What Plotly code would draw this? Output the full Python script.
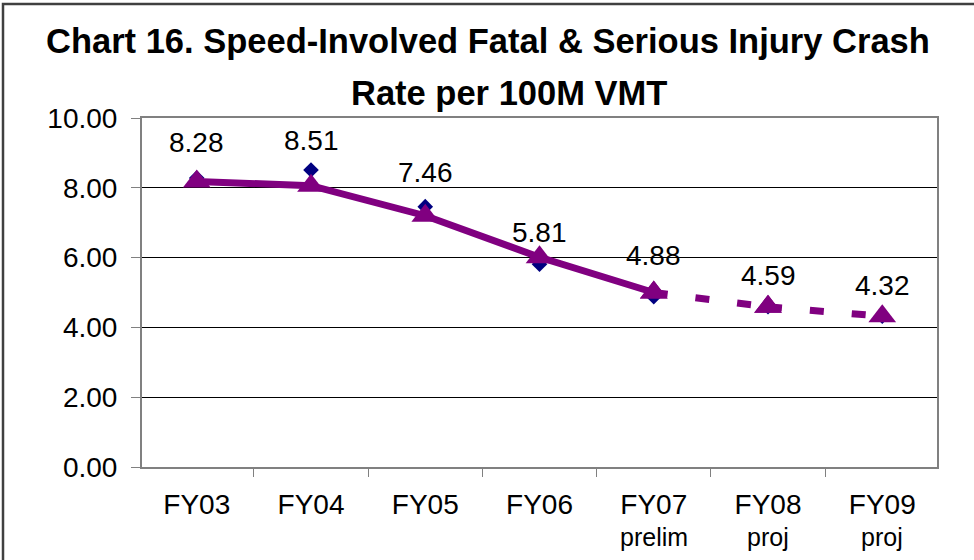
import plotly.graph_objects as go

# ---------------- data ----------------
categories = ["FY03", "FY04", "FY05", "FY06", "FY07", "FY08", "FY09"]
sub_labels = ["", "", "", "", "prelim", "proj", "proj"]
actual_rate = [8.28, 8.51, 7.46, 5.81, 4.88, 4.59, 4.32]
trend_rate = [8.18, 8.06, 7.20, 6.01, 5.00, 4.59, 4.32]
y_ticks = [0, 2, 4, 6, 8, 10]
title_line1 = "Chart 16. Speed-Involved Fatal & Serious Injury Crash"
title_line2 = "Rate per 100M VMT"

# ---------------- style ----------------
FONT = "Arial, 'Liberation Sans', sans-serif"
PURPLE = "#800080"
NAVY = "#000080"
label_offsets = [36, 30, 34, 32, 41, 31, 31]
solid_n = 5  # FY03..FY07 solid, then projection dashed

W, H = 974, 560
L, R, T, B = 142, 37, 118, 93
PW, PH = W - L - R, H - T - B


def px_x(p):
    return (p - L) / PW


def px_y(p):
    return (H - B - p) / PH


fig = go.Figure()

# actual values (diamonds)
fig.add_trace(go.Scatter(
    x=categories, y=actual_rate, mode="markers",
    marker=dict(symbol="diamond", size=12, color=NAVY),
    hoverinfo="skip", showlegend=False))

# trend line - solid part
fig.add_trace(go.Scatter(
    x=categories[:solid_n], y=trend_rate[:solid_n], mode="lines+markers",
    line=dict(color=PURPLE, width=7),
    marker=dict(symbol="triangle-up", size=24, color=PURPLE),
    hoverinfo="skip", showlegend=False))

# trend line - projected (dashed), one trace per segment so pattern restarts
for i in range(solid_n - 1, len(categories) - 1):
    fig.add_trace(go.Scatter(
        x=categories[i:i + 2], y=trend_rate[i:i + 2], mode="lines+markers",
        line=dict(color=PURPLE, width=7, dash="14px,28px"),
        marker=dict(symbol="triangle-up", size=24, color=PURPLE),
        hoverinfo="skip", showlegend=False))

annotations = []
for c, v, off in zip(categories, actual_rate, label_offsets):
    annotations.append(dict(
        x=c, y=v, xref="x", yref="y", text=f"{v:.2f}", showarrow=False,
        yanchor="middle", yshift=off,
        font=dict(family=FONT, size=28, color="black")))
for c, s in zip(categories, sub_labels):
    if s:
        annotations.append(dict(
            x=c, y=0, xref="x", yref="paper", text=s, showarrow=False,
            yanchor="middle", yshift=-70,
            font=dict(family=FONT, size=25, color="black")))

# title lines
annotations.append(dict(
    x=px_x(488), y=px_y(41), xref="paper", yref="paper", text=f"<b>{title_line1}</b>",
    showarrow=False, xanchor="center", yanchor="middle",
    font=dict(family=FONT, size=34.5, color="black")))
annotations.append(dict(
    x=px_x(509), y=px_y(93), xref="paper", yref="paper", text=f"<b>{title_line2}</b>",
    showarrow=False, xanchor="center", yanchor="middle",
    font=dict(family=FONT, size=34.5, color="black")))

fig.update_layout(
    width=W, height=H,
    margin=dict(l=L, r=R, t=T, b=B),
    paper_bgcolor="white", plot_bgcolor="white",
    font=dict(family=FONT, color="black"),
    annotations=annotations,
    shapes=[dict(type="rect", xref="paper", yref="paper",
                 x0=px_x(3), x1=px_x(1000), y0=px_y(700), y1=px_y(4),
                 line=dict(color="#404040", width=2.5), layer="above")],
)

fig.update_xaxes(
    type="category", tickson="boundaries", ticks="outside", ticklen=8,
    tickcolor="#808080", showgrid=False, showline=True, linecolor="#808080",
    linewidth=2, mirror=True, ticklabelstandoff=11,
    tickfont=dict(family=FONT, size=28, color="black"))

fig.update_yaxes(
    range=[0, 10], tickvals=y_ticks, tickformat=".2f", ticks="outside",
    ticklen=9, tickcolor="#808080", showgrid=True, gridcolor="black",
    gridwidth=1, zeroline=False, showline=True, linecolor="#808080",
    linewidth=2, mirror=True, ticklabelstandoff=8,
    tickfont=dict(family=FONT, size=28, color="black"))

fig.write_html("out.html", config={"displayModeBar": False},
               post_script="document.body.style.margin='0px';document.body.style.overflow='hidden';")
